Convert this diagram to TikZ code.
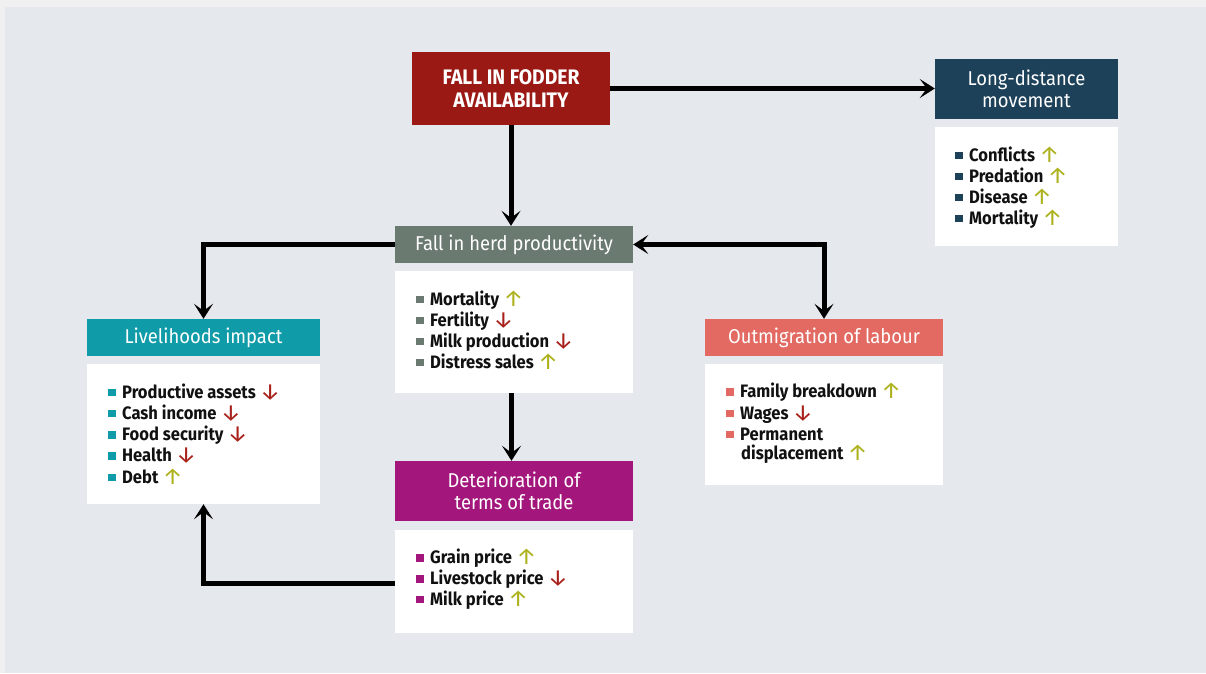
\documentclass[tikz,border=0pt]{standalone}
\usepackage{fontspec}
\setmainfont{Fira Sans}[FakeStretch=0.92]
\newfontfamily\arrowfont{Fira Sans}
\usetikzlibrary{arrows.meta}
\definecolor{outerbg}{HTML}{F0F0F0}
\definecolor{panel}{HTML}{E5E8ED}
\definecolor{fodderc}{HTML}{9A1915}
\definecolor{navyc}{HTML}{1D4159}
\definecolor{herdc}{HTML}{6B7A70}
\definecolor{tealc}{HTML}{0F9BA8}
\definecolor{coralc}{HTML}{E26A62}
\definecolor{magc}{HTML}{A3177C}
\definecolor{upc}{HTML}{ADB21C}
\definecolor{dnc}{HTML}{A8201A}
\definecolor{textc}{HTML}{111111}
\newcommand\U{\hspace{4pt}{\arrowfont\mdseries\fontsize{23}{23}\selectfont\color{upc}\raisebox{-1pt}{↑}}}
\newcommand\D{\hspace{4pt}{\arrowfont\mdseries\fontsize{23}{23}\selectfont\color{dnc}\raisebox{-1pt}{↓}}}
\newcommand\bul[1]{{\color{#1}\raisebox{1.7pt}{\rule{7.5pt}{7.5pt}}}\hspace{6.5pt}}
\begin{document}
\begin{tikzpicture}[x=1pt,y=-1pt,
  hdr/.style={fill=#1, text=white, inner sep=0pt, align=center,
    font=\fontsize{20}{21.5}\selectfont},
  bodybox/.style={fill=white, inner sep=0pt},
  item/.style={anchor=base west, inner sep=0pt, text=textc,
    font=\fontsize{18}{20}\selectfont\bfseries},
  conn/.style={line width=5pt, draw=black,
    -{Stealth[length=15pt,width=19pt,inset=7pt]}},
  conn2/.style={line width=5pt, draw=black,
    {Stealth[length=15pt,width=19pt,inset=7pt]}-{Stealth[length=15pt,width=19pt,inset=7pt]}}
]
\useasboundingbox (0,0) rectangle (1206,673);
\fill[outerbg] (0,0) rectangle (1206,673);
\fill[panel] (5,7) rectangle (1206,673);

% headers and bodies
\node[hdr=fodderc, minimum width=198pt, minimum height=73pt,
  font=\fontsize{21}{23}\selectfont\bfseries] (fodder) at (511,88.5) {FALL IN FODDER\\AVAILABILITY};

\node[hdr=navyc, minimum width=183pt, minimum height=60pt] (ldh) at (1026.5,89) {Long-distance\\movement};
\node[bodybox, minimum width=183pt, minimum height=119pt] (ldb) at (1026.5,186.5) {};

\node[hdr=herdc, minimum width=238pt, minimum height=37pt] (herdh) at (514,244.5) {Fall in herd productivity};
\node[bodybox, minimum width=238pt, minimum height=122pt] (herdb) at (514,332) {};

\node[hdr=tealc, minimum width=233pt, minimum height=37pt] (livh) at (203.5,337.5) {Livelihoods impact};
\node[bodybox, minimum width=233pt, minimum height=140pt] (livb) at (203.5,434) {};

\node[hdr=coralc, minimum width=238pt, minimum height=37pt] (outh) at (824,337.5) {Outmigration of labour};
\node[bodybox, minimum width=238pt, minimum height=121pt] (outb) at (824,424.5) {};

\node[hdr=magc, minimum width=238pt, minimum height=60pt] (deth) at (514,491) {Deterioration of\\terms of trade};
\node[bodybox, minimum width=238pt, minimum height=103pt] (detb) at (514,581.5) {};

% items: long-distance
\node[item] (ld1) at (955,161) {\bul{navyc}Conflicts\U};
\node[item] (ld2) at (955,182) {\bul{navyc}Predation\U};
\node[item] (ld3) at (955,203) {\bul{navyc}Disease\U};
\node[item] (ld4) at (955,224) {\bul{navyc}Mortality\U};

% herd
\node[item] (hd1) at (416,305) {\bul{herdc}Mortality\U};
\node[item] (hd2) at (416,326) {\bul{herdc}Fertility\D};
\node[item] (hd3) at (416,347) {\bul{herdc}Milk production\D};
\node[item] (hd4) at (416,368) {\bul{herdc}Distress sales\U};

% livelihoods
\node[item] (lv1) at (108,398) {\bul{tealc}Productive assets\D};
\node[item] (lv2) at (108,419) {\bul{tealc}Cash income\D};
\node[item] (lv3) at (108,440.5) {\bul{tealc}Food security\D};
\node[item] (lv4) at (108,461.5) {\bul{tealc}Health\D};
\node[item] (lv5) at (108,483) {\bul{tealc}Debt\U};

% outmigration
\node[item] (om1) at (726,397.5) {\bul{coralc}Family breakdown\U};
\node[item] (om2) at (726,419) {\bul{coralc}Wages\D};
\node[item] (om3) at (726,440) {\bul{coralc}Permanent};
\node[item] (om4) at (741,459.5) {displacement\U};

% deterioration
\node[item] (dt1) at (416,563.5) {\bul{magc}Grain price\U};
\node[item] (dt2) at (416,584.5) {\bul{magc}Livestock price\D};
\node[item] (dt3) at (416,605) {\bul{magc}Milk price\U};

% connectors
\draw[conn] (fodder.east) -- (fodder.east -| ldh.west);
\draw[conn] (fodder.south) -- (fodder.south |- herdh.north);
\draw[conn] (herdh.west) -| (livh.north);
\draw[conn2] (herdh.east) -| (outh.north);
\coordinate (hbs) at ([xshift=-2.5pt]herdb.south);
\draw[conn] (hbs) -- (hbs |- deth.north);
\draw[conn] ([yshift=-1.5pt]detb.west) -| (livb.south);
\end{tikzpicture}
\end{document}
